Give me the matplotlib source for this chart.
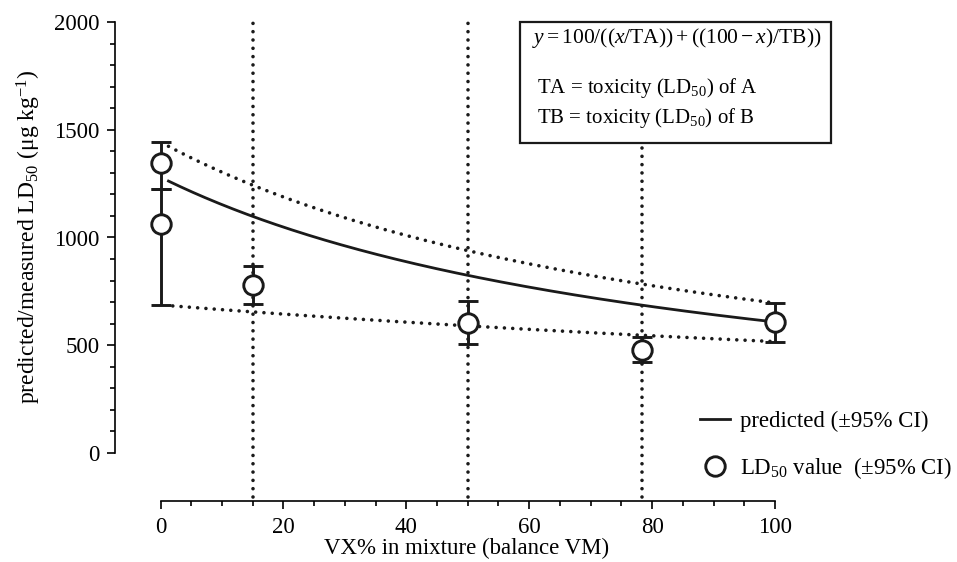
import numpy as np
import matplotlib
matplotlib.use("Agg")
import matplotlib.pyplot as plt
from matplotlib.lines import Line2D
from matplotlib.patches import Rectangle
from matplotlib.ticker import FixedLocator

plt.rcParams['font.family'] = ['Liberation Serif', 'DejaVu Serif']
plt.rcParams['mathtext.fontset'] = 'custom'
plt.rcParams['mathtext.rm'] = 'Liberation Serif'
plt.rcParams['mathtext.it'] = 'Liberation Serif:italic'
plt.rcParams['mathtext.bf'] = 'Liberation Serif:bold'

# ---- data ----
x_meas = [0, 0, 15, 50, 78.3, 100]
ld50 = [1344, 1061, 780, 605, 478, 608]
ci_low = [1225, 687, 691, 506, 422, 517]
ci_high = [1443, 1225, 868, 707, 537, 696]

TA, TA_lo, TA_hi = 608, 517, 696      # LD50 of VX (x = 100)
TB, TB_lo, TB_hi = 1280, 687, 1443    # LD50 of VM (x = 0)
vlines_x = [15, 50, 78.3]

xticks = [0, 20, 40, 60, 80, 100]
yticks = [0, 500, 1000, 1500, 2000]
xminor = list(range(0, 101, 5))
yminor = list(range(0, 2001, 100))

W, H = 957, 562
fig = plt.figure(figsize=(W / 100, H / 100), dpi=100)

X0, XS = 160.5, 6.145
def px2x(p):
    return (p - X0) / XS

def px2y(p):
    return (453 - p) / 0.2155

L, R, T, B = 114.5, 951, 15, 500.7
ax = fig.add_axes([L / W, 1 - B / H, (R - L) / W, (B - T) / H])
ax.set_xlim(px2x(L), px2x(R))
ax.set_ylim(px2y(B), px2y(T))

for s in ['top', 'right']:
    ax.spines[s].set_visible(False)
ax.spines['left'].set_bounds(0, 2000)
ax.spines['bottom'].set_bounds(0, 100)
for s in ['left', 'bottom']:
    ax.spines[s].set_linewidth(1.2)

ax.set_xticks(xticks)
ax.set_yticks(yticks)
ax.xaxis.set_minor_locator(FixedLocator(xminor))
ax.yaxis.set_minor_locator(FixedLocator(yminor))
ax.tick_params(which='major', direction='out', length=5.5, width=1.2, labelsize=16.5)
ax.tick_params(which='minor', direction='out', length=3.5, width=1.2)
ax.tick_params(axis='x', which='major', pad=6)
ax.tick_params(axis='y', which='major', pad=5)

dot = dict(color='#1a1a1a', lw=2.6, ls=(0, (0.001, 2.3)), dash_capstyle='round')

# vertical guide lines
for xv in vlines_x:
    ax.plot([xv, xv], [-205, 2005], **dot, zorder=1)

# predicted curves (formula shown in the chart)
xx = np.linspace(1.3, 100, 300)
xl = np.linspace(2.0, 100, 300)
ax.plot(xx, 100 / (xx / TA + (100 - xx) / TB), color='#1a1a1a', lw=2.0, zorder=2)
ax.plot(xx, 100 / (xx / TA_hi + (100 - xx) / TB_hi), **dot, zorder=2)
ax.plot(xl, 100 / (xl / TA_lo + (100 - xl) / TB_lo), **dot, zorder=2)

# measured points
yerr = [np.array(ld50) - np.array(ci_low), np.array(ci_high) - np.array(ld50)]
ax.errorbar(x_meas, ld50, yerr=yerr, fmt='o', ms=14, mfc='white', mec='#1a1a1a', mew=2.1,
            ecolor='#1a1a1a', elinewidth=2.1, capsize=7, capthick=2.1, zorder=3)

# labels
fig.text(467 / W, 1 - 548 / H, 'VX% in mixture (balance VM)', ha='center', va='center', fontsize=16.5)
fig.text(29 / W, 1 - 237 / H, r'predicted/measured LD$_{50}$ (μg kg$^{-1}$)', ha='center', va='center',
         rotation=90, fontsize=17)

# formula box
box = Rectangle((520 / W, 1 - 143 / H), 311 / W, 121 / H, transform=fig.transFigure,
                fill=True, facecolor='white', edgecolor='#1a1a1a', lw=1.6, zorder=5)
fig.patches.append(box)
fig.text(532 / W, 1 - 38 / H, r'$y = 100/((x/\mathrm{TA})) + ((100 - x)/\mathrm{TB}))$', ha='left', va='center',
         fontsize=15.5, zorder=6)
fig.text(537 / W, 1 - 88 / H, r'TA = toxicity (LD$_{50}$) of A', ha='left', va='center', fontsize=15, zorder=6)
fig.text(537 / W, 1 - 118 / H, r'TB = toxicity (LD$_{50}$) of B', ha='left', va='center', fontsize=15, zorder=6)

# legend
handles = [Line2D([], [], color='#1a1a1a', lw=2.0),
           Line2D([], [], marker='o', ms=14, mfc='white', mec='#1a1a1a', mew=2.1, ls='none')]
labels = ['predicted (±95% CI)', r'LD$_{50}$ value  (±95% CI)']
ax.legend(handles, labels, loc='upper left', bbox_to_anchor=(700 / W, 1 - 411 / H),
          bbox_transform=fig.transFigure, frameon=False, handlelength=1.3, handletextpad=0.45,
          labelspacing=1.0, borderpad=0, borderaxespad=0, fontsize=16.4)

fig.savefig('out.png', dpi=100)
